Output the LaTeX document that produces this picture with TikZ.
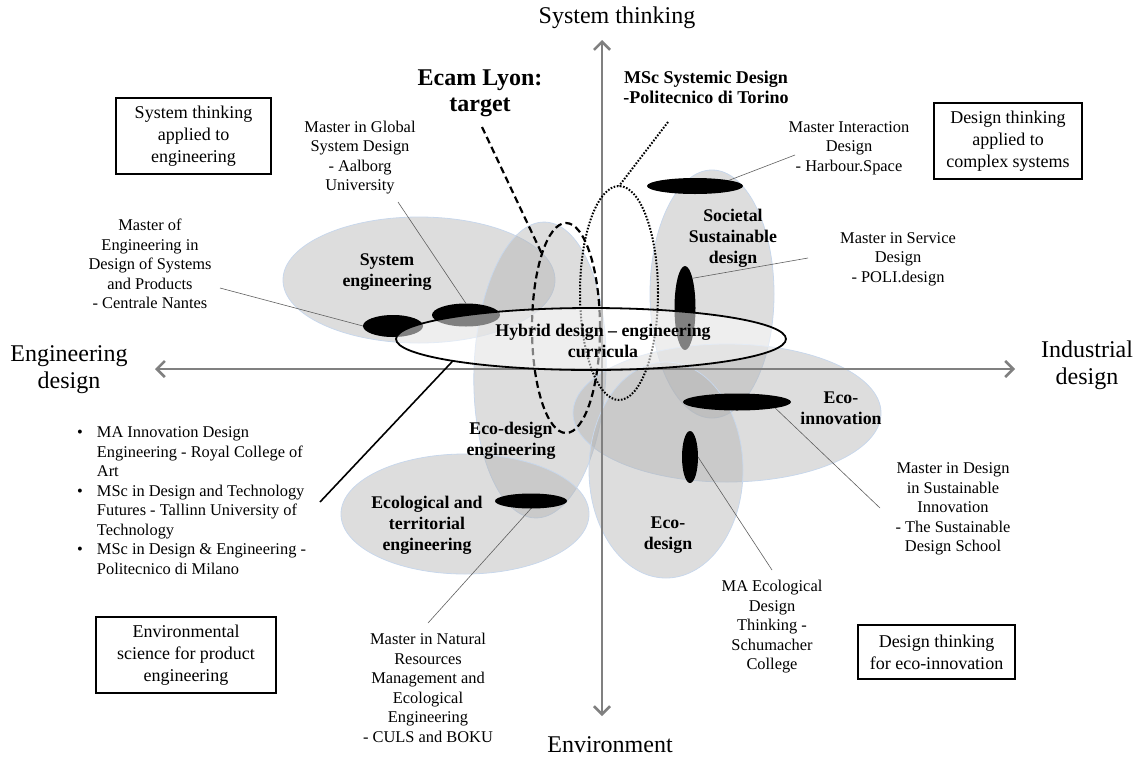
\documentclass[tikz,border=0pt]{standalone}
\usepackage{fontspec}
\setmainfont{Liberation Serif}
\usetikzlibrary{shapes.geometric,arrows.meta}
\definecolor{ellfill}{RGB}{175,175,175}
\definecolor{ellline}{RGB}{200,215,235}
\definecolor{axisgray}{RGB}{128,128,128}
\definecolor{ptrgray}{RGB}{95,95,95}
\tikzset{
 zone/.style={ellipse, draw=ellline, line width=0.8pt, fill=ellfill, fill opacity=0.42, inner sep=0pt, outer sep=0pt},
 blob/.style={ellipse, fill=black, inner sep=0pt, outer sep=0pt},
 hybridzone/.style={ellipse, draw=black, line width=1.8pt, fill=white, fill opacity=0.5, inner sep=0pt, outer sep=0pt},
 tgtzone/.style={ellipse, draw=black, line width=2.2pt, dash pattern=on 7pt off 4pt, inner sep=0pt, outer sep=0pt},
 tgtline/.style={draw=black, line width=2.2pt, dash pattern=on 7pt off 4pt},
 syszone/.style={ellipse, draw=black, line width=2pt, dash pattern=on 1.6pt off 1.6pt, inner sep=0pt, outer sep=0pt},
 sysline/.style={draw=black, line width=2pt, dash pattern=on 1.6pt off 1.6pt},
 small/.style={align=center, font=\fontsize{16.4}{19.5}\selectfont, inner sep=0pt},
 zlabel/.style={align=center, font=\fontsize{17.8}{21}\selectfont\bfseries, inner sep=0pt},
 boxnode/.style={draw=black, line width=1.2pt, align=center, font=\fontsize{18}{22}\selectfont, inner sep=0pt},
 axlabel/.style={align=center, font=\fontsize{24}{27}\selectfont, inner sep=0pt},
 axisline/.style={draw=axisgray, line width=2.6pt, {Straight Barb[length=8pt,width=16pt]}-{Straight Barb[length=8pt,width=16pt]}},
 ptr/.style={draw=ptrgray, line width=0.6pt},
}
\begin{document}
\begin{tikzpicture}[x=1pt,y=-1pt]
\useasboundingbox (0,0) rectangle (1133,756);

% grey zones
\node[zone, minimum width=272pt, minimum height=126pt] (gSE) at (419,280) {};
\node[zone, minimum width=132pt, minimum height=296pt, rotate=-2] (gEDE) at (540,370) {};
\node[zone, minimum width=124pt, minimum height=248pt] (gSSD) at (712,294) {};
\node[zone, minimum width=308pt, minimum height=138pt] (gEI) at (727,413) {};
\node[zone, minimum width=154pt, minimum height=216pt] (gED) at (666,470) {};
\node[zone, minimum width=248pt, minimum height=120pt] (gETE) at (465,514) {};

% axes
\coordinate (axL) at (155,369);
\coordinate (axR) at (1015,369);
\coordinate (axT) at (602,40);
\coordinate (axB) at (602,716);
\draw[axisline] (axL) -- (axR);
\draw[axisline] (axT) -- (axB);

% black programme blobs
\node[blob, minimum width=60pt, minimum height=22pt] (bCN) at (393,326) {};
\node[blob, minimum width=68pt, minimum height=23pt] (bAA) at (466,315) {};
\node[blob, minimum width=96pt, minimum height=16pt] (bHS) at (695,186) {};
\node[blob, minimum width=21pt, minimum height=84pt] (bPD) at (685,308) {};
\node[blob, minimum width=108pt, minimum height=17pt] (bSDS) at (737,402) {};
\node[blob, minimum width=16pt, minimum height=52pt] (bSC) at (690,457) {};
\node[blob, minimum width=72pt, minimum height=15pt] (bCB) at (531,501) {};

% target and systemic design
\node[tgtzone, minimum width=68pt, minimum height=210pt] (dE) at (566,328) {};
\node[syszone, minimum width=78pt, minimum height=214pt] (dS) at (619,293) {};
\coordinate (ecamStart) at (482,127);
\coordinate (sysStart) at (668,122);
\draw[tgtline] (ecamStart) -- (dE.108);
\draw[sysline] (sysStart) -- (dS.north);

% hybrid
\node[hybridzone, minimum width=390pt, minimum height=62pt] (hyb) at (591,339) {};

% axis labels
\node[axlabel] (lTop) at (617,18) {System thinking};
\node[axlabel] (lBot) at (610,745) {Environment};
\node[axlabel] (lLeft) at (69,370) {Engineering\\design};
\node[axlabel] (lRight) at (1087,365) {Industrial\\design};

% corner boxes
\node[boxnode, minimum width=155pt, minimum height=76pt] (boxSE) at (193.5,136) {System thinking\\applied to\\engineering};
\node[boxnode, minimum width=148pt, minimum height=76pt] (boxDC) at (1008,141) {Design thinking\\applied to\\complex systems};
\node[boxnode, minimum width=180pt, minimum height=76pt] (boxES) at (186,655) {Environmental\\science for product\\engineering};
\node[boxnode, minimum width=157pt, minimum height=54pt] (boxDE) at (936.5,652) {Design thinking\\for eco-innovation};

% zone labels
\node[zlabel] (zSE) at (387,272) {System\\engineering};
\node[zlabel] (zSSD) at (733,238.5) {Societal\\Sustainable\\design};
\node[zlabel] (zHY) at (603,341) {Hybrid design -- engineering\\curricula};
\node[zlabel] (zEDE) at (511,441) {Eco-design\\engineering};
\node[zlabel] (zEI) at (841,408) {Eco-\\innovation};
\node[zlabel] (zED) at (668,535) {Eco-\\design};
\node[zlabel] (zETE) at (427,525) {Ecological and\\territorial\\engineering};

% highlighted programmes
\node[align=center, font=\fontsize{24}{26}\selectfont\bfseries, inner sep=0pt] (tEcam) at (480,93) {Ecam Lyon:\\target};
\node[align=center, font=\fontsize{18}{20}\selectfont\bfseries, inner sep=0pt] (tSys) at (706,87) {MSc Systemic Design\\-Politecnico di Torino};

% programme labels
\node[small] (tAA) at (360,157.5) {Master in Global\\System Design\\- Aalborg\\University};
\node[small] (tCN) at (150,264) {Master of\\Engineering in\\Design of Systems\\and Products\\- Centrale Nantes};
\node[small] (tHS) at (849,148) {Master Interaction\\Design\\- Harbour.Space};
\node[small] (tPD) at (898,259) {Master in Service\\Design\\- POLI.design};
\node[small] (tSDS) at (953,509) {Master in Design\\in Sustainable\\Innovation\\- The Sustainable\\Design School};
\node[small] (tSC) at (772,627) {MA Ecological\\Design\\Thinking -\\Schumacher\\College};
\node[small] (tCB) at (428,688) {Master in Natural\\Resources\\Management and\\Ecological\\Engineering\\- CULS and BOKU};

\node[anchor=north west, inner sep=0pt, font=\fontsize{16.4}{19.5}\selectfont] (blist) at (77,424) {\begin{tabular}{@{}l@{\hspace{14pt}}l@{}}
\textbullet & MA Innovation Design\\
 & Engineering - Royal College of\\
 & Art\\
\textbullet & MSc in Design and Technology\\
 & Futures - Tallinn University of\\
 & Technology\\
\textbullet & MSc in Design \& Engineering -\\
 & Politecnico di Milano
\end{tabular}};

% pointers
\coordinate (pCN) at (220,288);
\coordinate (pAA) at (398,202);
\coordinate (pHS) at (795,155);
\coordinate (pPD) at (808,258);
\coordinate (pSDS) at (880,508);
\coordinate (pSC) at (772,570);
\coordinate (pCB) at (428,623);
\coordinate (pBL) at (320,502);
\draw[ptr] (pCN) -- (bCN.west);
\draw[ptr] (pAA) -- (bAA.north);
\draw[ptr] (pHS) -- (bHS.north east);
\draw[ptr] (pPD) -- (bPD.north east);
\draw[ptr] (pSDS) -- (bSDS.south east);
\draw[ptr] (pSC) -- (bSC.east);
\draw[ptr] (pCB) -- (bCB.south);
\draw[black, line width=1.6pt] (pBL) -- (hyb.189);
\end{tikzpicture}
\end{document}
